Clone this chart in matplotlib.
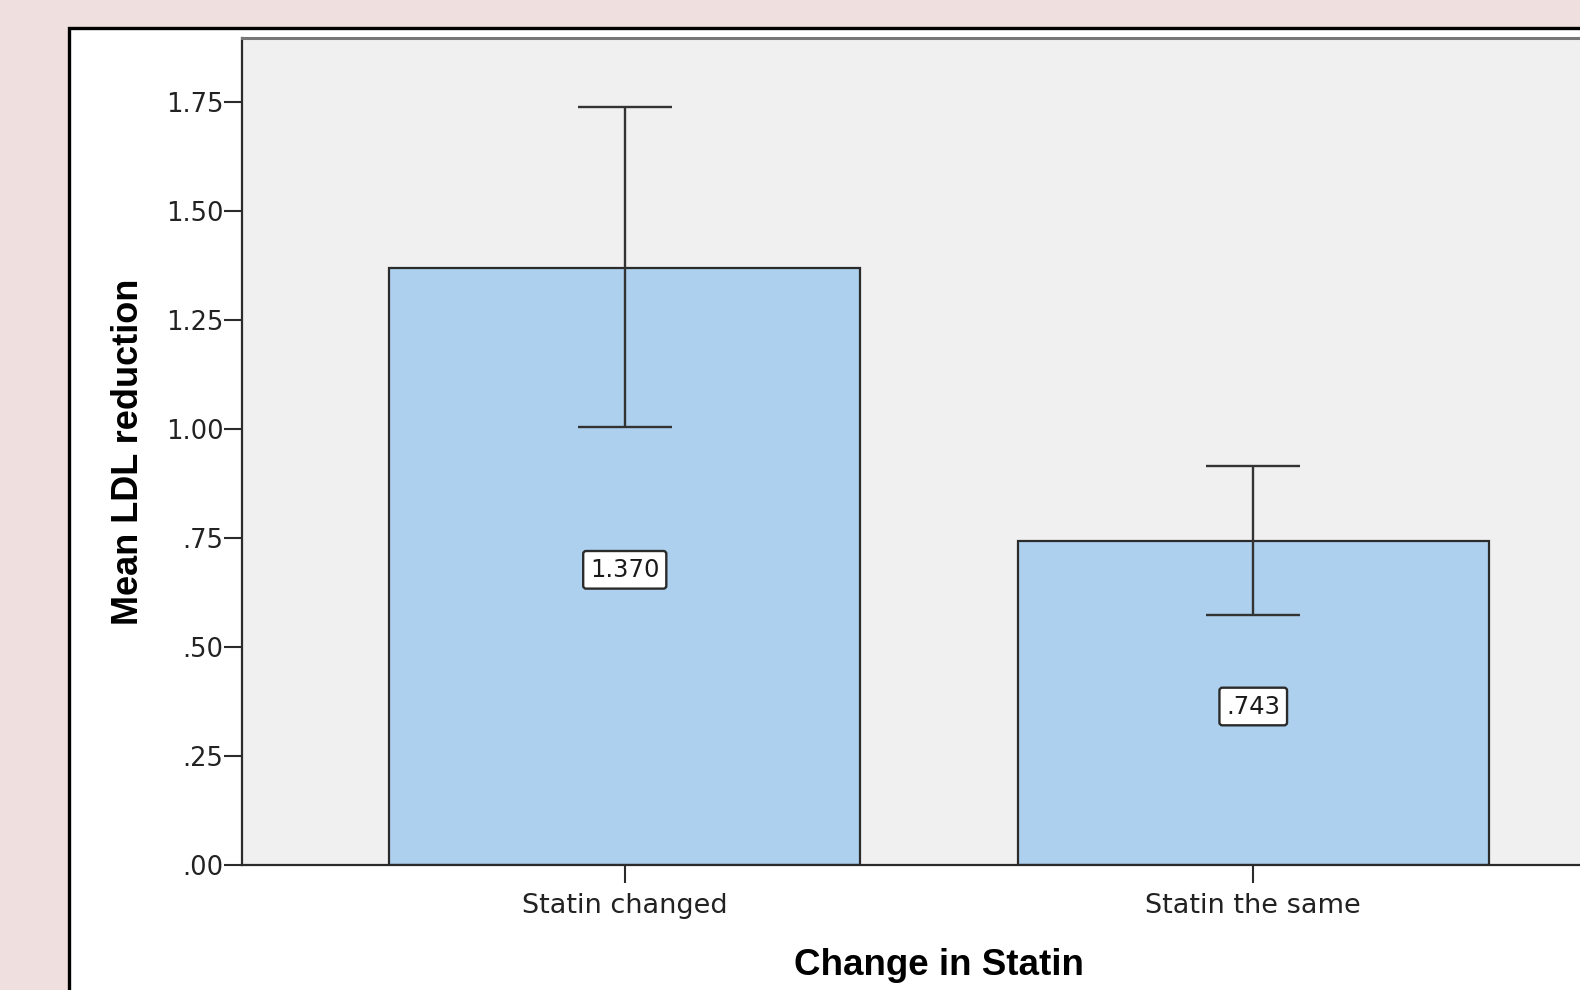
import matplotlib
matplotlib.use("Agg")
import matplotlib.pyplot as plt
from matplotlib.patches import Rectangle

# values
groups = ["Statin changed", "Statin the same"]
means = [1.370, 0.743]
ci_low = [1.004, 0.574]
ci_high = [1.739, 0.914]
value_labels = ["1.370", ".743"]
yticks = [0.0, 0.25, 0.50, 0.75, 1.00, 1.25, 1.50, 1.75]
ytick_labels = [".00", ".25", ".50", ".75", "1.00", "1.25", "1.50", "1.75"]

W, H = 1580, 990
fig = plt.figure(figsize=(W / 100, H / 100), dpi=100)
fig.patch.set_facecolor("#efe0df")
plt.rcParams["font.family"] = ["Liberation Sans", "DejaVu Sans"]
small_font = "DejaVu Sans"  # wider glyphs, closer to the stretched look

# white chart panel, runs off the right and bottom edges
panel = Rectangle((68.5 / W, -0.2), 1.5, (H - 27.5) / H + 0.2,
                  transform=fig.transFigure, facecolor="white",
                  edgecolor="black", linewidth=2.4, zorder=-1)
fig.patches.append(panel)

left, right, bottom, top = 242, 1636, 865, 38.3
ax = fig.add_axes([left / W, (H - bottom) / H, (right - left) / W, (bottom - top) / H])
ax.set_zorder(1)
ax.set_facecolor("#f0f0f0")

x = list(range(len(groups)))
ax.bar(x, means, width=0.75, color="#add0ee", edgecolor="#2b2b2b", linewidth=1.6, zorder=2)

err_lo = [m - lo for m, lo in zip(means, ci_low)]
err_hi = [hi - m for m, hi in zip(means, ci_high)]
ax.errorbar(x, means, yerr=[err_lo, err_hi], fmt="none", ecolor="#333333",
            elinewidth=1.7, capsize=34, capthick=1.7, zorder=3)

for xi, m, lab in zip(x, means, value_labels):
    ax.text(xi, m / 2 - 0.008, lab, ha="center", va="center", fontsize=17.5,
            family=small_font, color="#1a1a1a", zorder=4,
            bbox=dict(boxstyle="round,pad=0.28,rounding_size=0.12",
                      facecolor="white", edgecolor="#2b2b2b", linewidth=1.7))

ax.set_xlim(-0.609, 1.609)
ax.set_ylim(0, 1.896)
ax.set_yticks(yticks)
ax.set_yticklabels(ytick_labels, family=small_font)
ax.set_xticks(x)
ax.set_xticklabels(groups, family=small_font)

ax.tick_params(axis="y", length=13, width=1.5, color="#2b2b2b", pad=0.5,
               labelsize=18.5, labelcolor="#222222")
ax.tick_params(axis="x", length=13, width=1.5, color="#2b2b2b", pad=7,
               labelsize=19.5, labelcolor="#222222")

for side in ["left", "bottom"]:
    ax.spines[side].set_color("#2b2b2b")
    ax.spines[side].set_linewidth(1.6)
ax.spines["top"].set_color("#777777")
ax.spines["top"].set_linewidth(2.2)
ax.spines["right"].set_visible(False)

ax.set_xlabel("Change in Statin", fontsize=26.5, fontweight="bold", labelpad=21)
ax.set_ylabel("Mean LDL reduction", fontsize=26, fontweight="bold", labelpad=14)

fig.savefig("out.png", dpi=100, facecolor=fig.get_facecolor())
